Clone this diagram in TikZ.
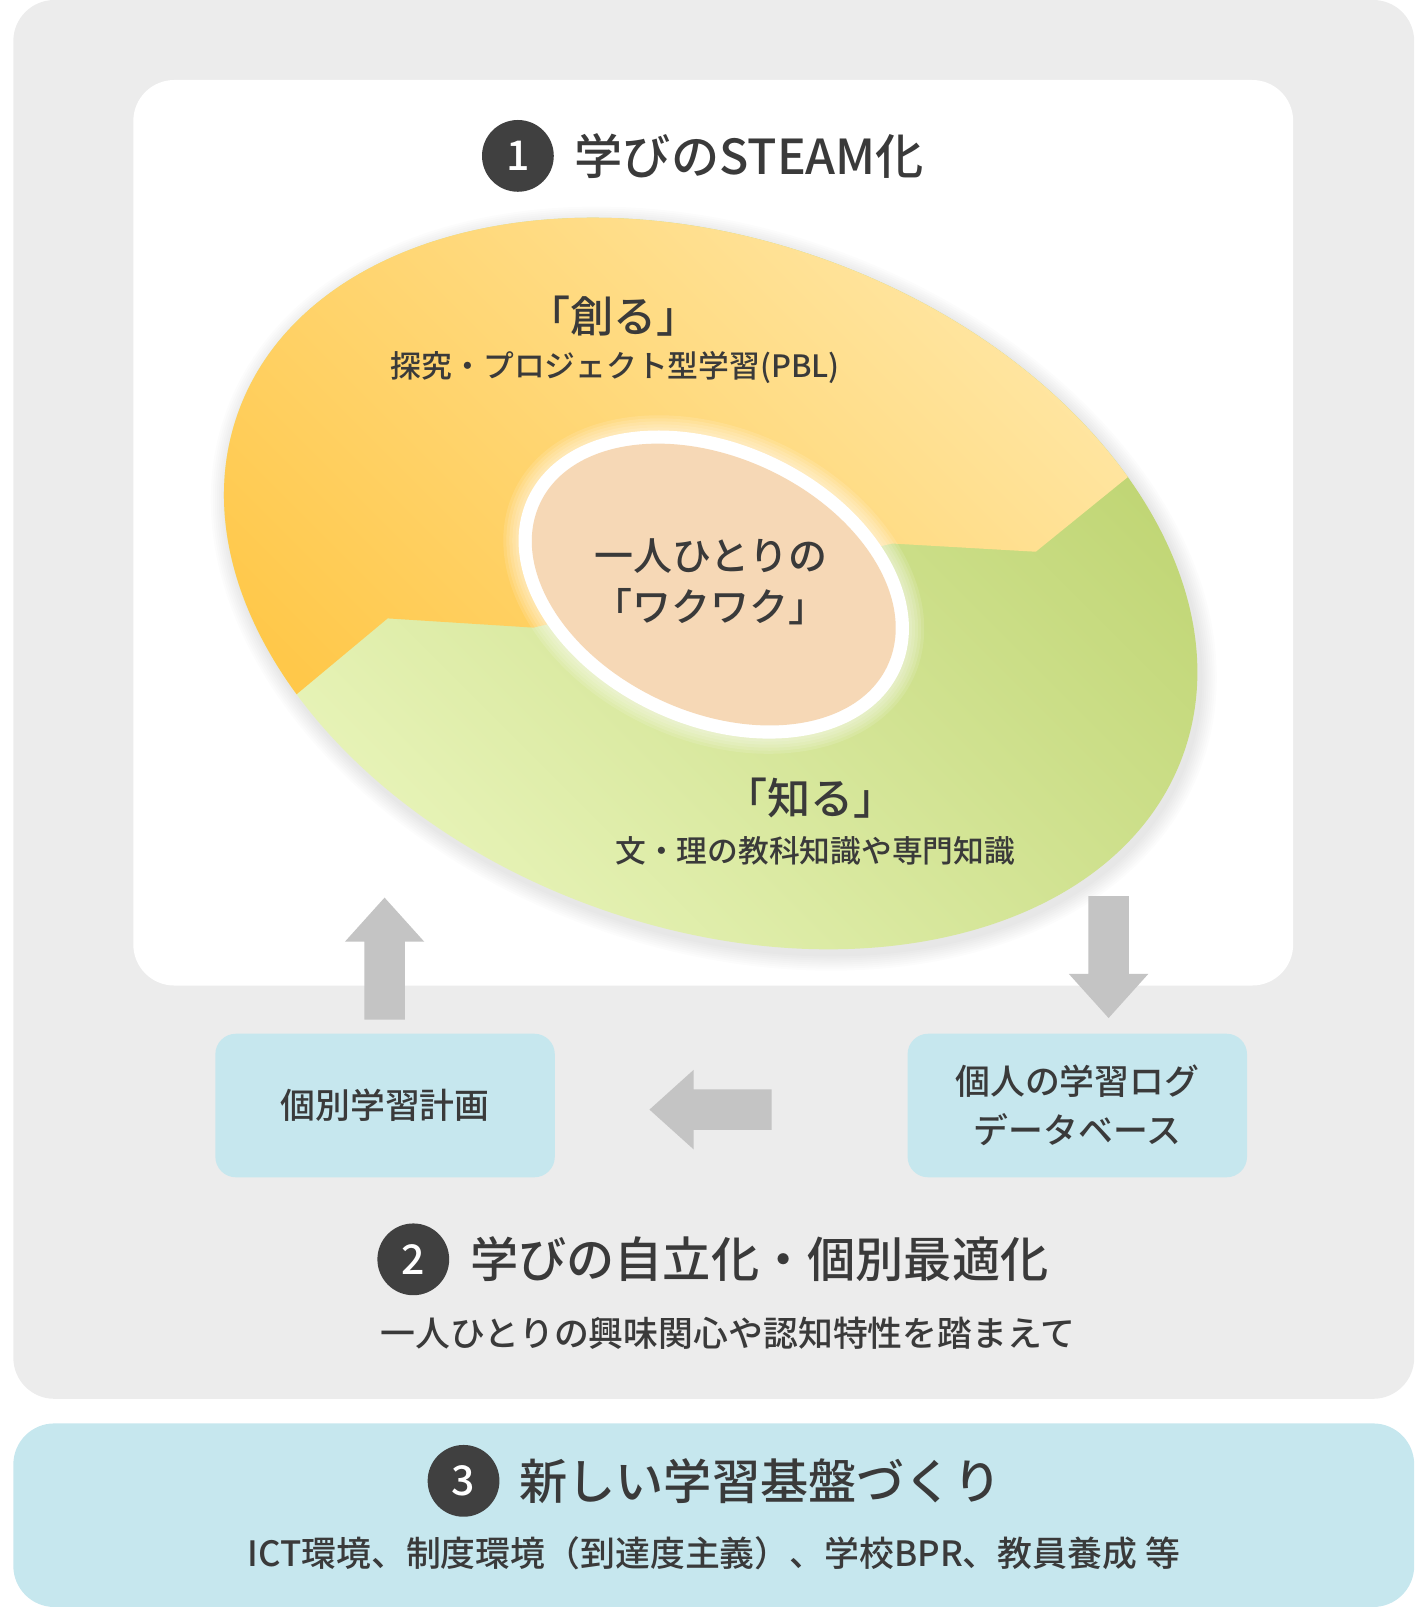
\documentclass[tikz,border=0pt]{standalone}
\usepackage{fontspec}
\setmainfont{Noto Sans CJK JP}
\newfontfamily\medfont{Noto Sans CJK JP Medium}
\usetikzlibrary{positioning, shapes.arrows}
\definecolor{bggray}{HTML}{ECECEC}
\definecolor{boxblue}{HTML}{C6E7EE}
\definecolor{arrgray}{HTML}{C4C4C4}
\definecolor{inkgray}{HTML}{3A3A3A}
\definecolor{numgray}{HTML}{404040}
\definecolor{peach}{HTML}{F6D8B6}
\definecolor{orgdark}{HTML}{FFC84A}
\definecolor{orglight}{HTML}{FFE9AC}
\definecolor{grndark}{HTML}{BAD16A}
\definecolor{grnlight}{HTML}{ECF7C0}

\begin{document}
\begin{tikzpicture}[x=1pt, y=-1pt, every node/.style={text=inkgray, inner sep=0pt},
	numcirc/.style={circle, fill=numgray, minimum size=70pt, text=white,
		font=\fontsize{40pt}{40pt}\selectfont\medfont},
	headtxt/.style={font=\fontsize{47pt}{56pt}\selectfont\medfont},
	subtxt/.style={font=\fontsize{34pt}{40pt}\selectfont\medfont},
	ringlbl/.style={font=\fontsize{42pt}{50pt}\selectfont\medfont},
	ringsub/.style={font=\fontsize{30pt}{36pt}\selectfont\medfont},
	stepbox/.style={rounded corners=20pt, fill=boxblue, minimum width=331pt,
		minimum height=140pt, align=center, font=\fontsize{34pt}{48pt}\selectfont\medfont},
	blockarr/.style={single arrow, fill=arrgray, inner sep=19.5pt, minimum height=119pt,
		single arrow head extend=19pt, single arrow tip angle=84, anchor=tip}]

	\useasboundingbox (0,0) rectangle (1392,1568);
	\fill[bggray, rounded corners=40pt] (13,0) rectangle (1379,1364);
	\fill[white, rounded corners=40pt] (130,78) rectangle (1261,961);
	\fill[boxblue, rounded corners=40pt] (13,1388) rectangle (1379,1567);

	\foreach \s in {2,4,...,16}
		\fill[black, opacity=0.012, shift={(696,574)}, rotate=-20]
			(0,0) ellipse [x radius={490pt+\s pt}, y radius={335pt+\s pt}];
	\begin{scope}
		\clip[shift={(693,569)}, rotate=-20] (0,0) ellipse [x radius=490pt, y radius=335pt];
		\shade[top color=grndark, bottom color=grnlight, shading angle=-45] (150,150) rectangle (1250,1000);
		\shade[top color=orglight, bottom color=orgdark, shading angle=-45]
			(168,778) -- (378,603) -- (520,612) -- (870,530) -- (1010,538) -- (1190,392)
			-- (1190,150) -- (168,150) -- cycle;
	\end{scope}

	\begin{scope}[shift={(696,570)}, rotate=-25]
		\foreach \g in {3,6,...,15}
			\fill[white, opacity=0.12] (0,0) ellipse [x radius={200pt+\g pt}, y radius={137pt+\g pt}];
		\fill[white] (0,0) ellipse [x radius=200pt, y radius=137pt];
		\fill[peach] (0,0) ellipse [x radius=187pt, y radius=124pt];
	\end{scope}

	\node[numcirc] (n1) at (505,152) {1};
	\node[headtxt, right=20pt of n1] (t1) {学びのSTEAM化};

	\node[ringlbl] (make) at (598,308) {「創る」};
	\node[ringsub] (makesub) at (600,358) {探究・プロジェクト型学習(PBL)};
	\node[align=center, font=\fontsize{38pt}{50pt}\selectfont\medfont] (core) at (693,567) {一人ひとりの\\「ワクワク」};
	\node[ringlbl] (know) at (790,778) {「知る」};
	\node[ringsub] (knowsub) at (795,830) {文・理の教科知識や専門知識};

	\node[blockarr, shape border rotate=90] (upArr) at (375,875) {};
	\node[blockarr, shape border rotate=270] (downArr) at (1081,993) {};
	\node[blockarr, shape border rotate=180] (leftArr) at (633,1082) {};

	\node[stepbox] (plan) at (375.5,1078) {個別学習計画};
	\node[stepbox] (logdb) at (1050.5,1078) {個人の学習ログ\\データベース};

	\node[numcirc] (n2) at (403,1228) {2};
	\node[headtxt, right=20pt of n2] (t2) {学びの自立化・個別最適化};
	\node[subtxt] (s2) at (710,1300) {一人ひとりの興味関心や認知特性を踏まえて};

	\node[numcirc] (n3) at (452,1444) {3};
	\node[headtxt, right=19pt of n3] (t3) {新しい学習基盤づくり};
	\node[subtxt] (s3) at (696,1515) {ICT環境、制度環境（到達度主義）、学校BPR、教員養成 等};
\end{tikzpicture}
\end{document}
